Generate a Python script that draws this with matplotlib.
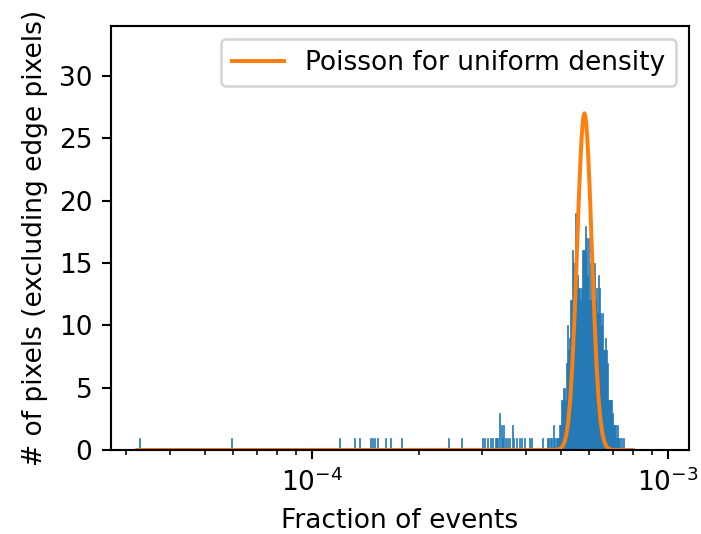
import numpy as np
import matplotlib
matplotlib.use("Agg")
import matplotlib.pyplot as plt

# ---- data ----
# sparse low-fraction pixels (fraction of events, count)
outlier_fraction = [0.329e-4, 0.597e-4, 1.20e-4, 1.32e-4, 1.36e-4, 1.46e-4, 1.48e-4,
                    1.50e-4, 1.53e-4, 1.61e-4, 1.66e-4, 1.79e-4, 2.42e-4, 2.63e-4,
                    3.01e-4, 3.05e-4, 3.11e-4, 3.18e-4, 3.22e-4, 3.281e-4, 3.307e-4,
                    3.334e-4, 3.363e-4, 3.407e-4, 3.434e-4, 3.467e-4, 3.501e-4,
                    3.558e-4, 3.604e-4, 3.658e-4, 3.69e-4, 3.763e-4, 3.844e-4,
                    3.875e-4, 3.971e-4, 4.083e-4, 4.147e-4, 4.441e-4, 4.593e-4,
                    4.638e-4, 4.683e-4, 4.728e-4, 4.768e-4, 4.820e-4, 4.873e-4]
outlier_count = [1, 1, 1, 1, 1, 1, 1,
                 1, 1, 1, 1, 1, 1, 1,
                 1, 1, 1, 1, 1, 1, 1,
                 1, 3, 2, 1, 2, 1,
                 1, 1, 2, 1, 1, 1,
                 1, 1, 1, 1, 1, 1,
                 1, 1, 1, 2, 1, 1]

# main peak (fraction of events, count)
peak_fraction = [4.906e-4, 4.938e-4, 4.970e-4, 5.002e-4, 5.035e-4, 5.067e-4, 5.100e-4,
                 5.133e-4, 5.167e-4, 5.200e-4, 5.234e-4, 5.268e-4, 5.302e-4, 5.336e-4,
                 5.371e-4, 5.406e-4, 5.441e-4, 5.476e-4, 5.512e-4, 5.547e-4, 5.583e-4,
                 5.620e-4, 5.656e-4, 5.693e-4, 5.730e-4, 5.767e-4, 5.804e-4, 5.842e-4,
                 5.880e-4, 5.918e-4, 5.957e-4, 5.995e-4, 6.034e-4, 6.073e-4, 6.113e-4,
                 6.152e-4, 6.192e-4, 6.232e-4, 6.273e-4, 6.314e-4, 6.354e-4, 6.396e-4,
                 6.437e-4, 6.479e-4, 6.521e-4, 6.563e-4, 6.606e-4, 6.649e-4, 6.692e-4,
                 6.735e-4, 6.779e-4, 6.823e-4, 6.867e-4, 6.912e-4, 6.957e-4, 7.002e-4,
                 7.047e-4, 7.093e-4, 7.139e-4, 7.185e-4, 7.232e-4, 7.279e-4, 7.326e-4,
                 7.422e-4, 7.518e-4]
peak_count = [1, 1, 2, 2, 4, 4, 5,
              5, 4, 7, 10, 8, 9, 12,
              12, 16, 15, 14, 19, 14, 14,
              13, 13, 12, 13, 16, 16, 16,
              18, 17, 14, 17, 12, 15, 12,
              13, 15, 15, 12, 13, 11, 14,
              13, 11, 10, 11, 8, 8, 9,
              8, 7, 4, 4, 4, 4, 3,
              2, 2, 2, 1, 2, 1, 1,
              1, 1]

# Poisson expectation curve (fraction of events, # of pixels)
poisson_fraction = [0.323e-4, 4.865e-4, 4.928e-4, 4.993e-4, 5.058e-4, 5.124e-4, 5.190e-4,
                    5.258e-4, 5.326e-4, 5.395e-4, 5.466e-4, 5.537e-4, 5.609e-4, 5.645e-4,
                    5.682e-4, 5.719e-4, 5.756e-4, 5.793e-4, 5.831e-4, 5.869e-4, 5.907e-4,
                    5.945e-4, 5.984e-4, 6.023e-4, 6.062e-4, 6.141e-4, 6.221e-4, 6.301e-4,
                    6.383e-4, 6.466e-4, 6.550e-4, 6.636e-4, 6.722e-4, 6.809e-4, 6.898e-4,
                    6.988e-4, 7.97e-4]
poisson_pixels = [0, 0.01, 0.05, 0.12, 0.29, 0.63, 1.29,
                  2.44, 4.29, 7.0, 10.6, 14.8, 19.3, 21.35,
                  23.2, 24.81, 26.0, 26.75, 27.0, 26.75, 26.0,
                  24.81, 23.2, 21.35, 19.3, 14.8, 10.6, 7.0,
                  4.29, 2.44, 1.29, 0.63, 0.29, 0.12, 0.05,
                  0.01, 0]

hist_range = (3.23e-5, 9.70e-4)
n_bins = 526

# ---- plot ----
DPI = 190
fig = plt.figure(figsize=(701 / DPI, 534 / DPI), dpi=DPI)
ax = fig.add_axes([0.1579, 0.1573, 0.9833 - 0.1579, 0.9513 - 0.1573])

edges = np.geomspace(hist_range[0], hist_range[1], n_bins + 1)
values = outlier_fraction + peak_fraction
weights = outlier_count + peak_count
ax.hist(values, bins=edges, weights=weights, color="C0",
        edgecolor="C0", linewidth=0.25)
ax.plot(poisson_fraction, poisson_pixels, color="C1", lw=1.5,
        label="Poisson for uniform density")

ax.set_xscale("log")
ax.set_xlim(2.72e-5, 1.149e-3)
ax.set_ylim(0, 34)
ax.set_yticks([0, 5, 10, 15, 20, 25, 30])
ax.set_xlabel("Fraction of events")
ax.set_ylabel("# of pixels (excluding edge pixels)")
ax.legend(loc="upper right")

fig.savefig("out.png", dpi=DPI)
